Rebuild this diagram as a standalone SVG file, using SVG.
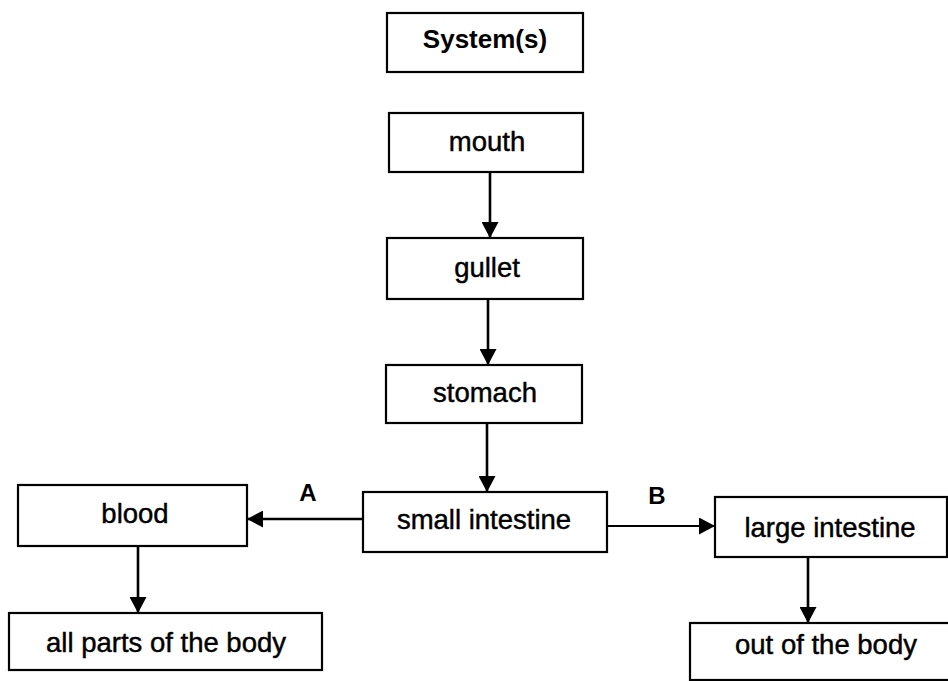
<svg xmlns="http://www.w3.org/2000/svg" width="948" height="681" viewBox="0 0 948 681">
<defs>
<style>
.box{fill:#fff;stroke:#000;stroke-width:2.2}
.t{font-family:"Liberation Sans",Arial,sans-serif;font-size:27.5px;fill:#000;text-anchor:middle;stroke:#000;stroke-width:0.45}
.tb{font-family:"Liberation Sans",Arial,sans-serif;font-size:26px;font-weight:bold;fill:#000;text-anchor:middle}
.lab{font-family:"Liberation Sans",Arial,sans-serif;font-size:24px;font-weight:bold;fill:#000;text-anchor:middle}
.c{stroke:#000;stroke-width:2.6;fill:none;marker-end:url(#ah)}
</style>
<marker id="ah" markerUnits="userSpaceOnUse" markerWidth="17" markerHeight="17" refX="16" refY="8.5" orient="auto">
<path d="M0,0 L16,8.5 L0,17 Z" fill="#000"/>
</marker>
</defs>
<rect width="948" height="681" fill="#fff"/>
<g id="connectors">
<line class="c" x1="490" y1="172" x2="490" y2="238"/>
<line class="c" x1="488" y1="299" x2="488" y2="365"/>
<line class="c" x1="487" y1="423" x2="487" y2="492"/>
<line class="c" x1="363" y1="519" x2="247" y2="519"/>
<line class="c" x1="607" y1="526" x2="715" y2="526" style="stroke-width:2"/>
<line class="c" x1="138" y1="546" x2="138" y2="613"/>
<line class="c" x1="808" y1="557" x2="808" y2="623"/>
<text class="lab" x="308" y="501">A</text>
<text class="lab" x="657" y="504">B</text>
</g>
<g id="systems"><rect class="box" x="387" y="13" width="196" height="59"/><text class="tb" x="485" y="48">System(s)</text></g>
<g id="mouth"><rect class="box" x="389" y="113" width="194" height="59"/><text class="t" x="487" y="151">mouth</text></g>
<g id="gullet"><rect class="box" x="387" y="238" width="196" height="61"/><text class="t" x="487" y="277">gullet</text></g>
<g id="stomach"><rect class="box" x="386" y="365" width="196" height="58"/><text class="t" x="485" y="402">stomach</text></g>
<g id="small-intestine"><rect class="box" x="363" y="492" width="244" height="60"/><text class="t" x="484" y="529">small intestine</text></g>
<g id="blood"><rect class="box" x="18" y="485" width="229" height="61"/><text class="t" x="135" y="523">blood</text></g>
<g id="all-parts"><rect class="box" x="9" y="613" width="313" height="57"/><text class="t" x="166" y="652">all parts of the body</text></g>
<g id="large-intestine"><rect class="box" x="715" y="497" width="232" height="60"/><text class="t" x="830" y="537">large intestine</text></g>
<g id="out-of-body"><rect class="box" x="690" y="623" width="262" height="57"/><text class="t" x="826" y="654">out of the body</text></g>
</svg>
